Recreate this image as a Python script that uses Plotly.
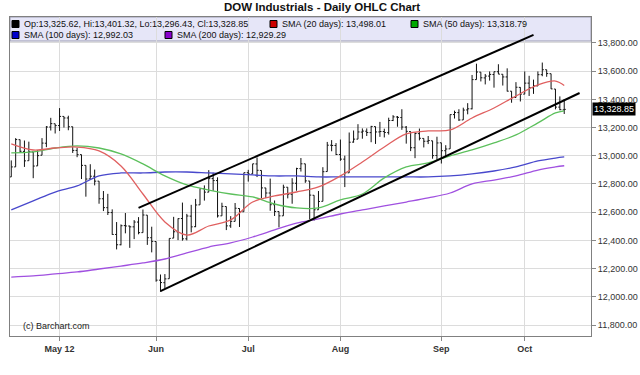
import plotly.graph_objects as go

# ---------------- DATA ----------------
dates = [
    "2012-04-16", "2012-04-17", "2012-04-18", "2012-04-19", "2012-04-20", "2012-04-23", "2012-04-24",
    "2012-04-25", "2012-04-26", "2012-04-27", "2012-04-30",
    "2012-05-01", "2012-05-02", "2012-05-03", "2012-05-04", "2012-05-07", "2012-05-08", "2012-05-09",
    "2012-05-10", "2012-05-11", "2012-05-14", "2012-05-15", "2012-05-16", "2012-05-17", "2012-05-18",
    "2012-05-21", "2012-05-22", "2012-05-23", "2012-05-24", "2012-05-25", "2012-05-29", "2012-05-30",
    "2012-05-31",
    "2012-06-01", "2012-06-04", "2012-06-05", "2012-06-06", "2012-06-07", "2012-06-08", "2012-06-11",
    "2012-06-12", "2012-06-13", "2012-06-14", "2012-06-15", "2012-06-18", "2012-06-19", "2012-06-20",
    "2012-06-21", "2012-06-22", "2012-06-25", "2012-06-26", "2012-06-27", "2012-06-28", "2012-06-29",
    "2012-07-02", "2012-07-03", "2012-07-05", "2012-07-06", "2012-07-09", "2012-07-10", "2012-07-11",
    "2012-07-12", "2012-07-13", "2012-07-16", "2012-07-17", "2012-07-18", "2012-07-19", "2012-07-20",
    "2012-07-23", "2012-07-24", "2012-07-25", "2012-07-26", "2012-07-27", "2012-07-30", "2012-07-31",
    "2012-08-01", "2012-08-02", "2012-08-03", "2012-08-06", "2012-08-07", "2012-08-08", "2012-08-09",
    "2012-08-10", "2012-08-13", "2012-08-14", "2012-08-15", "2012-08-16", "2012-08-17", "2012-08-20",
    "2012-08-21", "2012-08-22", "2012-08-23", "2012-08-24", "2012-08-27", "2012-08-28", "2012-08-29",
    "2012-08-30", "2012-08-31",
    "2012-09-04", "2012-09-05", "2012-09-06", "2012-09-07", "2012-09-10", "2012-09-11", "2012-09-12",
    "2012-09-13", "2012-09-14", "2012-09-17", "2012-09-18", "2012-09-19", "2012-09-20", "2012-09-21",
    "2012-09-24", "2012-09-25", "2012-09-26", "2012-09-27", "2012-09-28",
    "2012-10-01", "2012-10-02", "2012-10-03", "2012-10-04", "2012-10-05", "2012-10-08", "2012-10-09",
    "2012-10-10", "2012-10-11", "2012-10-12",
]

opens = [
    12850, 12921, 13114, 13031, 12965, 13027, 12928, 13004, 13089, 13204, 13227,
    13214, 13279, 13268, 13206, 13038, 13008, 12932, 12836, 12855, 12820, 12695, 12632, 12597, 12442,
    12369, 12505, 12502, 12496, 12530, 12455, 12579, 12419,
    12392, 12118, 12100, 12128, 12416, 12461, 12555, 12411, 12572, 12497, 12652, 12766, 12742, 12838,
    12824, 12574, 12640, 12503, 12535, 12626, 12603,
    12880, 12871, 12942, 12896, 12772, 12736, 12653, 12605, 12574, 12777, 12727, 12805, 12909, 12943,
    12821, 12720, 12617, 12677, 12888, 13075, 13073,
    13009, 12976, 12879, 13097, 13118, 13168, 13174, 13164, 13207, 13169, 13172, 13164, 13250, 13275,
    13271, 13203, 13172, 13057, 13157, 13123, 13103, 13106, 13002,
    13092, 13036, 13049, 13292, 13306, 13254, 13325, 13333, 13540, 13593, 13552, 13565, 13576, 13596,
    13578, 13559, 13458, 13413, 13485,
    13437, 13515, 13482, 13495, 13575, 13610, 13582, 13473, 13345, 13325.62,
]

highs = [
    12967, 13125, 13115, 13108, 13100, 13027, 13040, 13125, 13211, 13269, 13227,
    13338, 13279, 13284, 13206, 13056, 13008, 12932, 12940, 12902, 12820, 12750, 12730, 12620, 12530,
    12513, 12594, 12504, 12544, 12565, 12619, 12579, 12497,
    12392, 12158, 12161, 12414, 12567, 12556, 12668, 12588, 12652, 12694, 12768, 12790, 12898, 12880,
    12847, 12667, 12640, 12572, 12665, 12627, 12880,
    12900, 12943, 12988, 12896, 12772, 12838, 12683, 12605, 12795, 12777, 12841, 12915, 12984, 12943,
    12821, 12720, 12750, 12919, 13098, 13111, 13090,
    13115, 13001, 13165, 13179, 13224, 13194, 13194, 13212, 13207, 13240, 13192, 13270, 13288, 13282,
    13330, 13211, 13172, 13167, 13193, 13123, 13140, 13106, 13135,
    13092, 13075, 13293, 13320, 13330, 13341, 13373, 13573, 13653, 13593, 13580, 13598, 13597, 13649,
    13578, 13620, 13458, 13522, 13486,
    13598, 13567, 13540, 13598, 13661, 13610, 13582, 13473, 13421, 13401.32,
]

lows = [
    12850, 12921, 13021, 12921, 12965, 12841, 12928, 13004, 13061, 13179, 13158,
    13176, 13200, 13181, 13020, 12990, 12835, 12710, 12836, 12790, 12660, 12608, 12580, 12440, 12336,
    12365, 12450, 12347, 12409, 12443, 12455, 12368, 12315,
    12107, 12035, 12059, 12128, 12416, 12402, 12398, 12400, 12457, 12494, 12652, 12682, 12742, 12751,
    12562, 12574, 12473, 12489, 12535, 12495, 12603,
    12817, 12871, 12849, 12700, 12700, 12610, 12573, 12492, 12574, 12698, 12660, 12752, 12888, 12808,
    12550, 12540, 12617, 12677, 12888, 13032, 13005,
    12964, 12778, 12879, 13093, 13118, 13121, 13140, 13096, 13084, 13134, 13130, 13150, 13246, 13206,
    13184, 13086, 13033, 12983, 13109, 13059, 13083, 12979, 12968,
    12945, 12993, 13049, 13264, 13247, 13254, 13294, 13329, 13540, 13527, 13506, 13533, 13483, 13579,
    13498, 13456, 13376, 13413, 13385,
    13437, 13424, 13439, 13495, 13564, 13560, 13473, 13329, 13323, 13296.43,
]

closes = [
    12921, 13115, 13032, 12964, 13029, 12927, 13001, 13090, 13204, 13228, 13214,
    13279, 13268, 13206, 13038, 13008, 12932, 12835, 12855, 12820, 12695, 12632, 12598, 12442, 12369,
    12504, 12502, 12496, 12530, 12455, 12580, 12419, 12393,
    12118, 12101, 12127, 12414, 12461, 12554, 12411, 12573, 12496, 12651, 12767, 12742, 12838, 12824,
    12574, 12641, 12503, 12535, 12628, 12602, 12880,
    12871, 12943, 12897, 12772, 12736, 12653, 12605, 12574, 12777, 12727, 12806, 12909, 12943, 12822,
    12721, 12617, 12676, 12887, 13075, 13073, 13009,
    12976, 12879, 13096, 13118, 13169, 13175, 13165, 13208, 13169, 13172, 13165, 13250, 13276, 13272,
    13204, 13173, 13057, 13158, 13124, 13103, 13108, 13001, 13091,
    13036, 13048, 13292, 13307, 13254, 13324, 13333, 13540, 13594, 13553, 13565, 13577, 13596, 13579,
    13559, 13458, 13414, 13486, 13437,
    13515, 13483, 13495, 13575, 13610, 13583, 13474, 13345, 13327, 13328.85,
]

sma_dates = [
    "2012-04-16", "2012-04-23", "2012-04-30", "2012-05-07", "2012-05-14", "2012-05-21", "2012-05-29",
    "2012-06-05", "2012-06-12", "2012-06-19", "2012-06-26", "2012-07-03", "2012-07-11", "2012-07-18",
    "2012-07-25", "2012-08-01", "2012-08-08", "2012-08-15", "2012-08-22", "2012-08-29", "2012-09-06",
    "2012-09-13", "2012-09-20", "2012-09-27", "2012-10-04", "2012-10-10", "2012-10-12",
]
sma20 = [13084, 13041, 13055, 13062, 13034, 12928, 12729, 12531, 12438, 12502, 12545, 12672, 12715, 12743,
         12779, 12857, 12956, 13062, 13155, 13176, 13183, 13268, 13339, 13424, 13502, 13530, 13498.01]
sma50 = [13020, 13027, 13055, 13070, 13055, 13013, 12942, 12857, 12793, 12757, 12729, 12708, 12658, 12630,
         12630, 12687, 12729, 12843, 12921, 12949, 12999, 13041, 13091, 13148, 13233, 13304, 13318.79]
sma100 = [12616, 12680, 12743, 12786, 12857, 12878, 12878, 12885, 12885, 12878, 12871, 12864, 12857, 12857,
          12850, 12850, 12850, 12850, 12850, 12850, 12857, 12871, 12892, 12921, 12963, 12984, 12992.03]
sma200 = [12140, 12148, 12162, 12176, 12197, 12218, 12240, 12268, 12311, 12353, 12382, 12424, 12474, 12523,
          12552, 12587, 12616, 12644, 12672, 12701, 12736, 12800, 12828, 12857, 12899, 12921, 12929.29]

channel_upper_dates = ["2012-05-25", "2012-10-03"]
channel_upper_values = [12630, 13857]
channel_lower_dates = ["2012-06-04", "2012-10-17 12:00"]
channel_lower_values = [12040, 13445]

month_tick_dates = ["2012-05-01", "2012-06-01", "2012-07-02", "2012-08-01", "2012-09-04", "2012-10-01"]
month_tick_labels = ["May 12", "Jun", "Jul", "Aug", "Sep", "Oct"]
price_ticks = [11800, 12000, 12200, 12400, 12600, 12800, 13000, 13200, 13400, 13600, 13800]
holidays = ["2012-05-28", "2012-07-04", "2012-09-03"]

# ---------------- FIGURE ----------------
FONT = "Liberation Sans, Arial, sans-serif"
W, H = 640, 375
ML, MR, MT, MB = 10, 49, 17, 39
PW, PH = W - ML - MR, H - MT - MB


def px(x):
    return (x - ML) / PW


def py(y):
    return (H - MB - y) / PH


fig = go.Figure()

sma_styles = [
    (sma200, "#a050e0"),
    (sma100, "#4848cc"),
    (sma50, "#5cc05c"),
    (sma20, "#e06060"),
]
for vals, col in sma_styles:
    fig.add_trace(go.Scatter(x=sma_dates, y=vals, mode="lines",
                             line=dict(color=col, width=1.3, shape="spline", smoothing=1.0),
                             hoverinfo="skip", showlegend=False))

fig.add_trace(go.Ohlc(x=dates, open=opens, high=highs, low=lows, close=closes,
                      increasing=dict(line=dict(color="#111111", width=1)),
                      decreasing=dict(line=dict(color="#111111", width=1)),
                      tickwidth=0.35, hoverinfo="skip", showlegend=False))

for dx, vy in [(channel_upper_dates, channel_upper_values), (channel_lower_dates, channel_lower_values)]:
    fig.add_trace(go.Scatter(x=dx, y=vy, mode="lines", line=dict(color="#000000", width=2),
                             hoverinfo="skip", showlegend=False))

shapes = [
    dict(type="rect", xref="paper", yref="paper", x0=0, x1=1, y0=py(41), y1=1,
         fillcolor="#e6e6f8", line=dict(color="#9a9ab0", width=1), layer="below"),
]

legend_items = [
    (12, 24, "#000000", "Op:{:,.2f}, Hi:{:,.2f}, Lo:{:,.2f}, Cl:{:,.2f}".format(opens[-1], highs[-1], lows[-1], closes[-1])),
    (270, 24, "#cc0000", "SMA (20 days): {:,.2f}".format(sma20[-1])),
    (411, 24, "#00aa00", "SMA (50 days): {:,.2f}".format(sma50[-1])),
    (12, 35, "#0000cc", "SMA (100 days): {:,.2f}".format(sma100[-1])),
    (165, 35, "#8800cc", "SMA (200 days): {:,.2f}".format(sma200[-1])),
]
annotations = []
for x0, yc, col, txt in legend_items:
    shapes.append(dict(type="rect", xref="paper", yref="paper", x0=px(x0), x1=px(x0 + 7),
                       y0=py(yc + 3.5), y1=py(yc - 3.5), fillcolor=col,
                       line=dict(color="#000000", width=1)))
    annotations.append(dict(xref="paper", yref="paper", x=px(x0 + 10), y=py(yc), text=txt,
                            showarrow=False, xanchor="left", yanchor="middle",
                            font=dict(family=FONT, size=9, color="#111111")))

annotations.append(dict(xref="paper", yref="paper", x=px(322), y=py(7),
                        text="<b>DOW Industrials - Daily OHLC Chart</b>", showarrow=False,
                        xanchor="center", yanchor="middle",
                        font=dict(family=FONT, size=11.5, color="#111111")))
annotations.append(dict(xref="paper", yref="paper", x=px(21), y=py(326), text="(c) Barchart.com",
                        showarrow=False, xanchor="left", yanchor="middle",
                        font=dict(family=FONT, size=9, color="#222222")))
annotations.append(dict(xref="paper", yref="y", x=1, y=closes[-1], text="{:,.2f}".format(closes[-1]),
                        showarrow=False, xanchor="left", yanchor="middle", xshift=1,
                        bgcolor="#000000", borderpad=1,
                        font=dict(family=FONT, size=9, color="#ffffff")))

fig.update_layout(
    width=W, height=H,
    margin=dict(l=ML, r=MR, t=MT, b=MB, autoexpand=False),
    paper_bgcolor="#ffffff", plot_bgcolor="#ffffff",
    showlegend=False,
    shapes=shapes, annotations=annotations,
    xaxis=dict(
        type="date", automargin=False,
        range=["2012-04-13 17:00", "2012-10-22 02:24"],
        rangebreaks=[dict(bounds=["sat", "mon"]), dict(values=holidays)],
        rangeslider=dict(visible=False),
        tickvals=month_tick_dates,
        ticktext=["<b>{}</b>".format(t) for t in month_tick_labels],
        tickfont=dict(family=FONT, size=9, color="#333333"),
        ticks="outside", ticklen=4, tickcolor="#888888",
        showgrid=True, gridcolor="#dcdcdc", gridwidth=1,
        showline=True, linecolor="#808080", linewidth=1, mirror=True,
        zeroline=False, fixedrange=True,
    ),
    yaxis=dict(
        side="right", automargin=False,
        range=[11722, 13984],
        tickvals=price_ticks,
        tickformat=",.2f",
        tickfont=dict(family=FONT, size=9, color="#333333"),
        ticks="outside", ticklen=4, tickcolor="#888888",
        showgrid=True, gridcolor="#dcdcdc", gridwidth=1,
        showline=True, linecolor="#808080", linewidth=1, mirror=True,
        zeroline=False, fixedrange=True,
    ),
)

fig.write_html("out.html", config={"displayModeBar": False},
               post_script="document.body.style.margin='0';")
